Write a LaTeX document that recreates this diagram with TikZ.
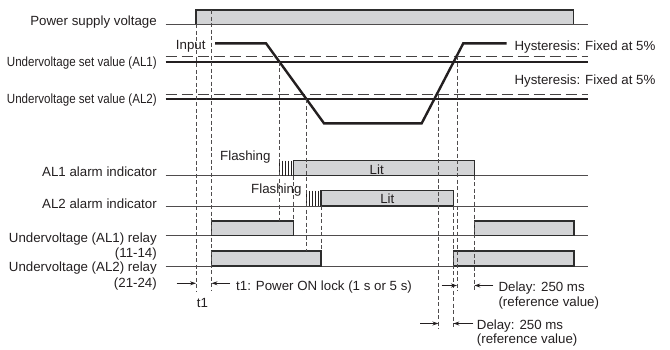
\documentclass[tikz,border=0pt]{standalone}
\usepackage{fontspec}
\setmainfont{Liberation Sans}
\usepackage{graphicx}
\usetikzlibrary{arrows.meta}
\tikzset {>=Stealth}
\definecolor{ink}{RGB}{35,31,32}
\definecolor{barfill}{RGB}{211,212,214}
\definecolor{edge}{RGB}{45,45,45}
\tikzset{
  lbl/.style={font=\fontsize{13.3}{15}\selectfont,inner sep=0pt,text=ink},
  baseline/.style={line width=0.9pt,draw=ink!80},
  level/.style={line width=2.4pt,draw=ink},
  hyst/.style={line width=1pt,draw=ink!85,dash pattern=on 11pt off 5pt},
  guide/.style={line width=0.8pt,draw=ink!80,dash pattern=on 4pt off 2.5pt},
  bar/.style={fill=barfill,draw=edge,line width=1.4pt},
  tick/.style={line width=0.8pt,draw=ink},
  dim/.style={line width=0.8pt,draw=ink,-{Stealth[length=6pt,width=4pt]}}
}
\newcommand{\narrowtext}[1]{\scalebox{0.87}[1]{#1}}
\begin{document}
\begin{tikzpicture}[x=1pt,y=-1pt]
\useasboundingbox (0,0) rectangle (670,349);
% power supply
\draw[bar] (196,24.3) rectangle (573.3,10);
\draw[baseline] (165.7,24.3) -- (588,24.3);
\node[lbl,anchor=base east] (psv) at (157,25) {Power supply voltage};
% set values and input
\draw[hyst] (165.7,56) -- (588,56);
\draw[hyst] (165.7,94) -- (588,94);
\draw[level] (165.7,61.7) -- (588,61.7);
\draw[level] (165.7,99) -- (588,99);
\draw[level,line join=miter] (215,43.3) -- (266,43.3) -- (324,123.3) --
  (421.7,123.3) -- (463.3,43.3) -- (506.7,43.3);
\node[lbl,anchor=base east] (inp) at (205.7,49.5) {Input};
\node[lbl,anchor=base east] (al1set) at (157,66) {\narrowtext{Undervoltage set value (AL1)}};
\node[lbl,anchor=base east] (al2set) at (157,103.5) {\narrowtext{Undervoltage set value (AL2)}};
\node[lbl,anchor=base west] (hys1) at (514.3,50) {Hysteresis: Fixed at 5\%};
\node[lbl,anchor=base west] (hys2) at (514.3,84.3) {Hysteresis: Fixed at 5\%};
% alarm indicators
\draw[baseline] (165.7,175.7) -- (588,175.7);
\draw[baseline] (165.7,206) -- (588,206);
\draw[bar] (293.5,175.7) rectangle (474.3,160.7);
\draw[bar] (321,206) rectangle (453.3,190.7);
\foreach \x in {279.5,282.5,...,291.5}
  \draw[tick] (\x,160.7) -- (\x,175.7);
\foreach \x in {306,309,...,318}
  \draw[tick] (\x,190.7) -- (\x,206);
\node[lbl,anchor=base east] (al1ind) at (157,176.7) {AL1 alarm indicator};
\node[lbl,anchor=base east] (al2ind) at (157,208.7) {AL2 alarm indicator};
\node[lbl,anchor=base east] (flash1) at (270.7,160.5) {Flashing};
\node[lbl,anchor=base east] (flash2) at (301.7,193.3) {Flashing};
\node[lbl,anchor=base] (lit1) at (376.7,174) {Lit};
\node[lbl,anchor=base] (lit2) at (387.3,203) {Lit};
% relays
\draw[baseline] (165.7,235.7) -- (588,235.7);
\draw[baseline] (165.7,266) -- (588,266);
\draw[bar] (211.5,235.7) rectangle (293.5,221);
\draw[bar] (474.3,235.7) rectangle (574,221);
\draw[bar] (211.5,266) rectangle (321,251);
\draw[bar] (453.3,266) rectangle (574,251);
\node[lbl,anchor=base east] (rly1) at (157,242.5) {Undervoltage (AL1) relay};
\node[lbl,anchor=base east] (rly1pins) at (157,257.5) {(11-14)};
\node[lbl,anchor=base east] (rly2) at (157,271.5) {Undervoltage (AL2) relay};
\node[lbl,anchor=base east] (rly2pins) at (157,287.5) {(21-24)};
% guide lines
\draw[guide] (196,24.3) -- (196,291);
\draw[guide] (211.5,10) -- (211.5,291);
\draw[guide] (279.5,61.7) -- (279.5,221);
\draw[guide] (293.5,175.7) -- (293.5,221);
\draw[guide] (306,99) -- (306,251);
\draw[guide] (321,206) -- (321,251);
\draw[guide] (438.3,94) -- (438.3,329);
\draw[guide] (453.3,206) -- (453.3,329);
\draw[guide] (457,56) -- (457,291);
\draw[guide] (474.3,175.7) -- (474.3,291);
% time spans
\coordinate (lockL) at (196,283.3);
\coordinate (lockR) at (211.5,283.3);
\coordinate (lockLfree) at (176.7,283.3);
\coordinate (lockRfree) at (230,283.3);
\draw[dim] (lockLfree) -- (lockL);
\draw[dim] (lockRfree) -- (lockR);
\node[lbl,anchor=base west] (lock) at (236,290) {t1: Power ON lock (1 s or 5 s)};
\node[lbl,anchor=base] (tone) at (202.5,307) {t1};
\coordinate (dlyAL) at (457,285.5);
\coordinate (dlyAR) at (474.3,285.5);
\coordinate (dlyALfree) at (441.7,285.5);
\coordinate (dlyARfree) at (493.3,285.5);
\draw[dim] (dlyALfree) -- (dlyAL);
\draw[dim] (dlyARfree) -- (dlyAR);
\node[lbl,anchor=base west] (dly1) at (498.3,291.7) {Delay: 250 ms};
\node[lbl,anchor=base west] (ref1) at (498.3,306) {(reference value)};
\coordinate (dlyBL) at (438.3,323.5);
\coordinate (dlyBR) at (453.3,323.5);
\coordinate (dlyBLfree) at (420,323.5);
\coordinate (dlyBRfree) at (473.3,323.5);
\draw[dim] (dlyBLfree) -- (dlyBL);
\draw[dim] (dlyBRfree) -- (dlyBR);
\node[lbl,anchor=base west] (dly2) at (476.7,329.5) {Delay: 250 ms};
\node[lbl,anchor=base west] (ref2) at (476.7,343.5) {(reference value)};
\end{tikzpicture}
\end{document}
